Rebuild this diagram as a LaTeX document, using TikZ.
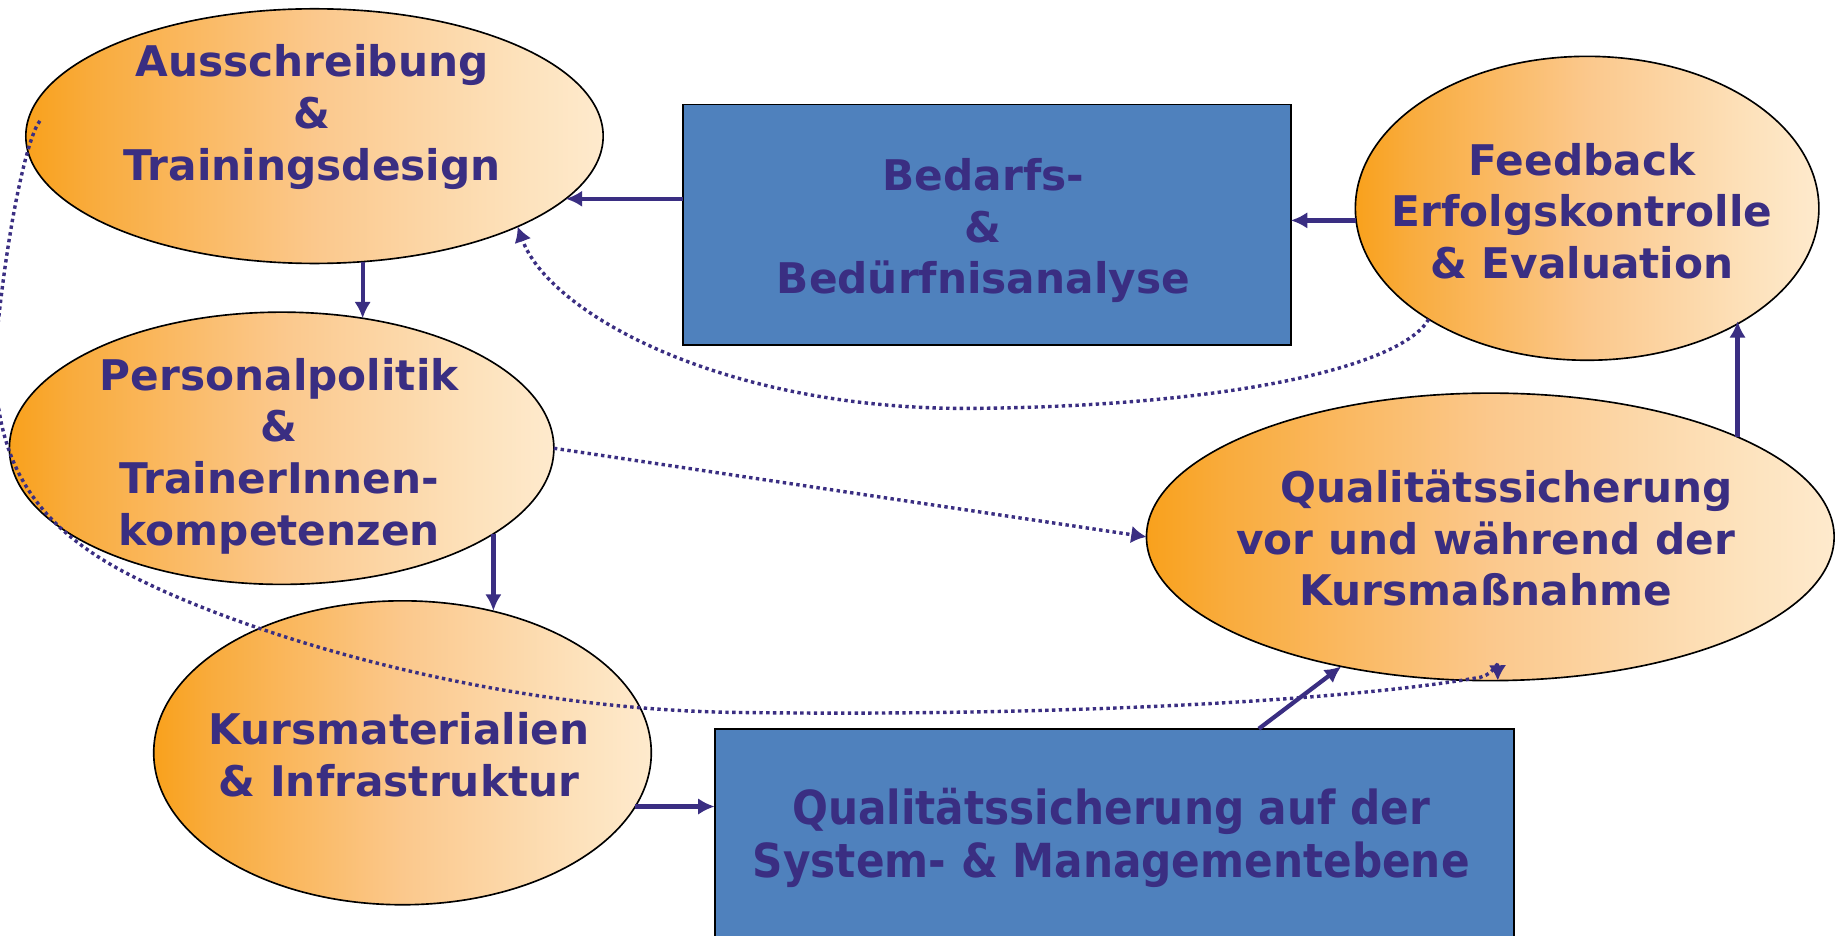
\documentclass[tikz,border=0pt]{standalone}
\usepackage{fontspec}
\setmainfont{DejaVu Sans}
\newfontfamily\condf{DejaVu Sans Condensed}
\usetikzlibrary{shapes.geometric,arrows.meta,calc}
\definecolor{txtc}{RGB}{58,46,130}
\definecolor{boxc}{RGB}{79,129,189}
\definecolor{og0}{RGB}{249,161,28}
\definecolor{og1}{RGB}{249,172,62}
\definecolor{og2}{RGB}{251,200,140}
\definecolor{og3}{RGB}{253,226,188}
\definecolor{og4}{RGB}{254,234,205}
\pgfdeclarehorizontalshading{orangegrad}{100bp}{color(0bp)=(og0); color(25bp)=(og0); color(31bp)=(og1); color(50bp)=(og2); color(68bp)=(og3); color(75bp)=(og4); color(100bp)=(og4)}
\tikzset{
  ell/.style={ellipse, draw=black, line width=1.4pt, shade, shading=orangegrad, inner sep=0pt, outer sep=0pt},
  bx/.style={rectangle, draw=black, line width=1.5pt, fill=boxc, inner sep=0pt, outer sep=0pt},
  lbl/.style={text=txtc, font=\bfseries\fontsize{36}{44}\selectfont, align=center, inner sep=0pt},
  conn/.style={draw=txtc, line width=3.6pt, -{Latex[length=14pt,width=14pt]}},
  dotconn/.style={draw=txtc, line width=2.9pt, dash pattern=on 2.9pt off 2.9pt, -{Latex[length=13pt,width=15pt]}}
}
\begin{document}
\begin{tikzpicture}[x=1pt,y=-1pt]
\useasboundingbox (0,0) rectangle (1568,797.6);
\clip (0,0) rectangle (1568,797.6);
\fill[white] (0,0) rectangle (1568,797.6);

\node[ell, minimum width=492pt, minimum height=217pt] (A) at (268,116) {};
\node[ell, minimum width=464pt, minimum height=232pt] (D) at (240,382) {};
\node[ell, minimum width=424pt, minimum height=259pt] (F) at (343,641.5) {};
\node[ell, minimum width=395pt, minimum height=259pt] (C) at (1352.5,177.5) {};
\node[ell, minimum width=586pt, minimum height=245pt] (E) at (1270,457.5) {};
\node[bx, minimum width=518pt, minimum height=205pt] (B) at (841,191.5) {};
\node[bx, minimum width=681pt, minimum height=238pt] (G) at (949.5,740) {};

\node[lbl] (At) at (266,99.7) {Ausschreibung\\\&\\Trainingsdesign};
\node[lbl] (Bt) at (838,196.5) {Bedarfs-\\\&\\Bedürfnisanalyse};
\node[lbl] (Ct) at (1348,180) {Feedback\\Erfolgskontrolle\\\& Evaluation};
\node[lbl] (Dt) at (238,388.6) {Personalpolitik\\\&\\TrainerInnen-\\kompetenzen};
\node[lbl] (Et) at (1266,458.5) {\hspace*{36pt}Qualitätssicherung\\vor und während der\\Kursmaßnahme};
\node[lbl] (Ft) at (340,643) {Kursmaterialien\\\& Infrastruktur};
\node[lbl, font=\condf\bfseries\fontsize{40}{45}\selectfont] (Gt) at (947,714) {Qualitätssicherung auf der\\System- \& Managementebene};

\draw[conn] (B.west |- A.-14.5) -- (A.-14.5);
\draw[conn] (C.-177.3) -- (C.-177.3 -| B.east);
\draw[conn] (A.-69) -- (A.-69 |- D.58.1);
\draw[conn] (D.-22.2) -- (D.-22.2 |- F.58.2);
\draw[conn] (F.-13.5) -- (F.-13.5 -| G.west);
\draw[conn] (G.44.2) -- (E.-139.8);
\draw[conn] (E.22.3) -- (E.22.3 |- C.-36.5);

\draw[dotconn] (C.-145.9) .. controls (1195,312) and (1050,346) .. (830,348) .. controls (620,350) and (468,268) .. (A.-24.5);
\draw[dotconn] (D.east) -- (E.west);
\draw[dotconn] ($(A.west)+(12,-13)$) .. controls (24,115) and (6,190) .. (-4,300) .. controls (-6,400) and (35,455) .. (125,497) .. controls (225,545) and (420,603) .. (620,607) .. controls (900,611) and (1150,597) .. (1262,577) .. controls (1274,574) and (1276,562) .. (E.-87.2);
\end{tikzpicture}
\end{document}
